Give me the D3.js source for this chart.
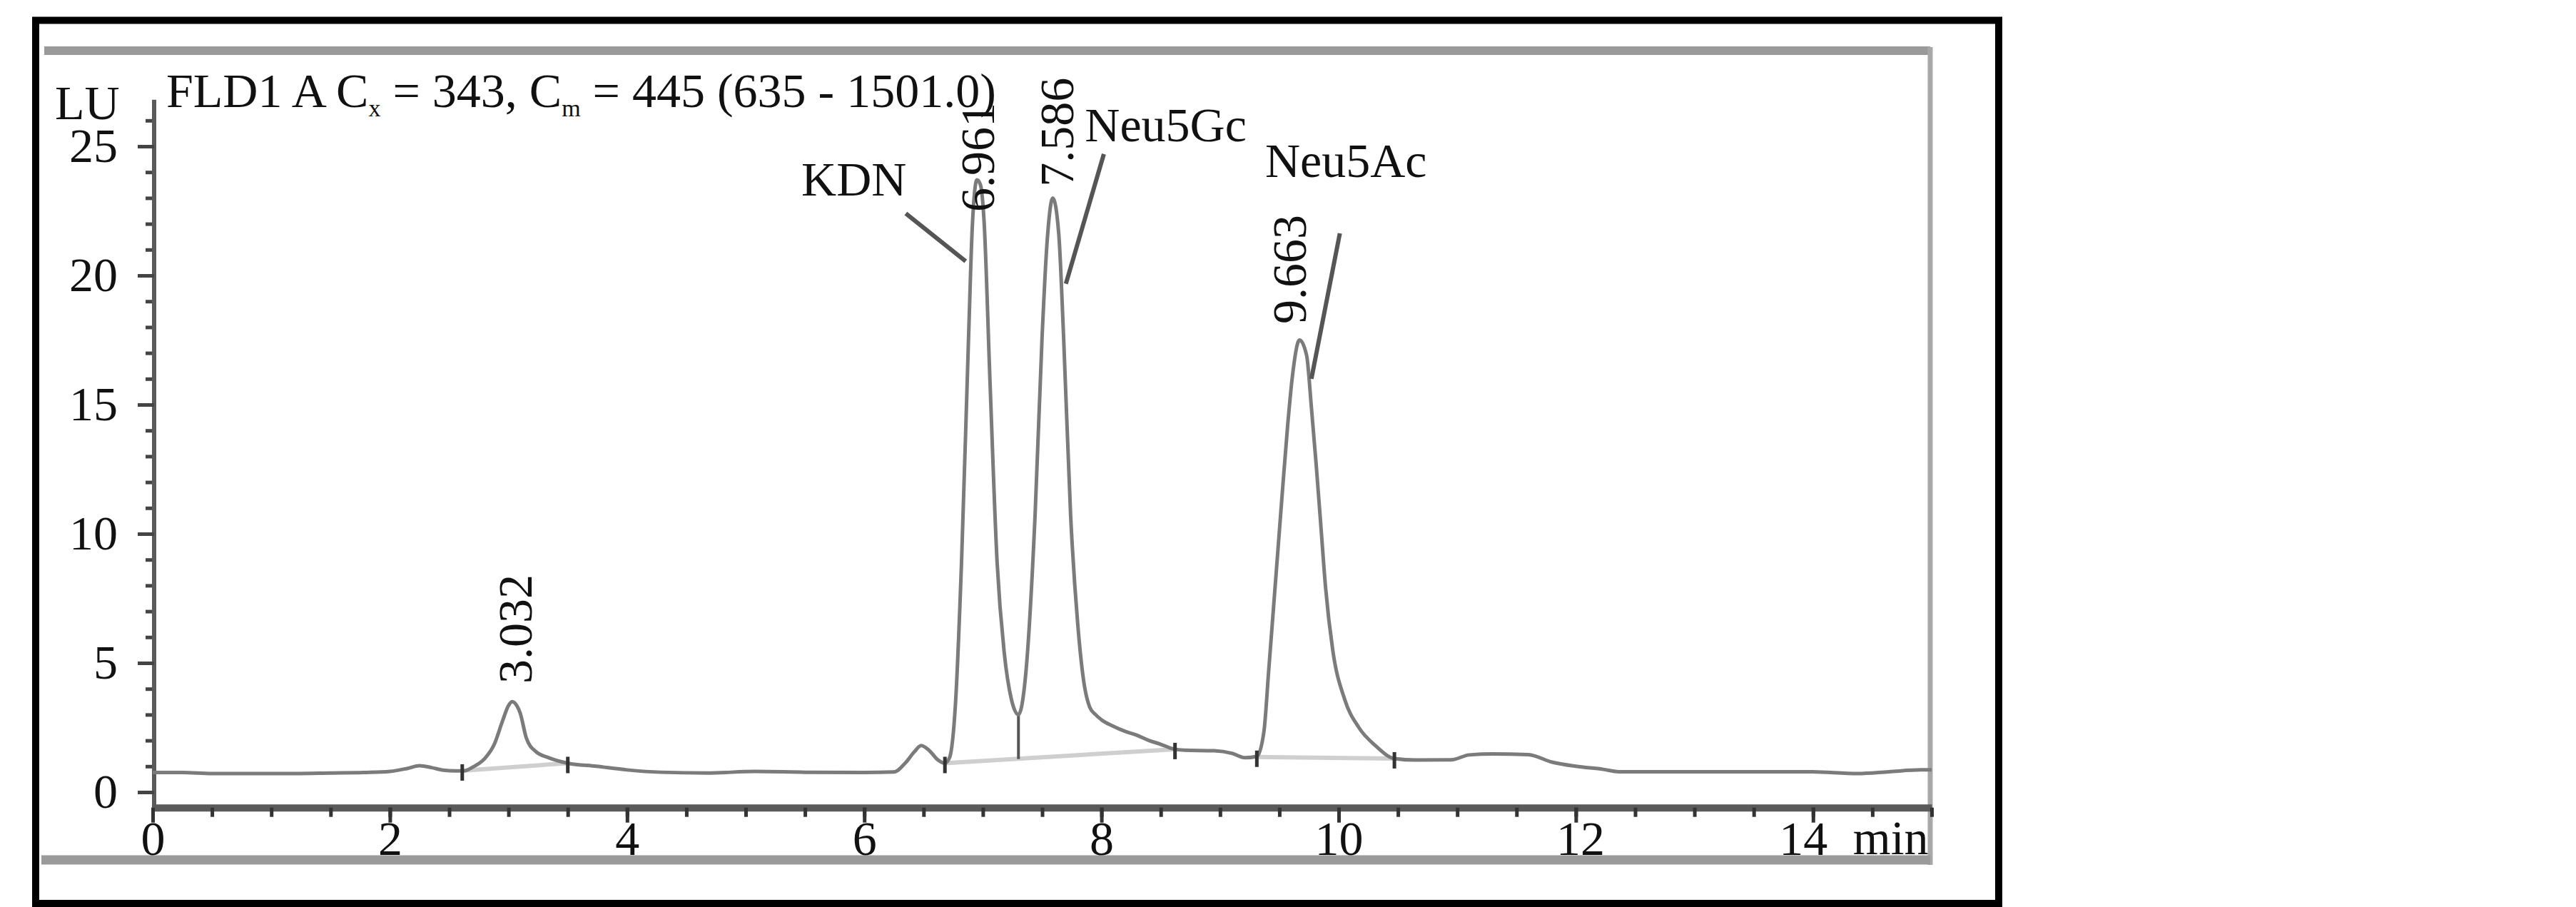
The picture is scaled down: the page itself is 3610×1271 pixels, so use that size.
<!DOCTYPE html>
<html>
<head>
<meta charset="utf-8">
<script src="https://cdn.jsdelivr.net/npm/d3@7"></script>
<style>
  html, body { margin: 0; padding: 0; background: #fff; }
  svg { display: block; }
  text { font-family: "Liberation Serif", "Times New Roman", serif; fill: #111; }
</style>
</head>
<body>
<svg id="chart" width="3610" height="1271"></svg>
<script>
// ---------------- data ----------------
const times = [0.00,0.25,0.50,0.80,1.20,1.50,1.80,2.00,2.15,2.25,2.35,2.45,2.55,2.62,2.70,2.80,2.88,2.95,3.00,3.03,3.07,3.10,3.15,3.23,3.34,3.50,3.74,4.00,4.28,4.68,5.08,5.50,6.00,6.25,6.35,6.42,6.48,6.55,6.62,6.68,6.72,6.77,6.82,6.88,6.91,6.95,6.98,7.01,7.06,7.12,7.18,7.24,7.30,7.36,7.44,7.50,7.54,7.59,7.64,7.68,7.74,7.80,7.85,7.90,7.95,8.00,8.10,8.20,8.30,8.40,8.50,8.60,8.70,8.95,9.10,9.21,9.31,9.37,9.41,9.45,9.49,9.53,9.57,9.61,9.67,9.73,9.77,9.81,9.85,9.89,9.95,10.05,10.17,10.31,10.47,10.65,10.95,11.10,11.30,11.60,11.80,12.00,12.23,12.36,13.00,13.97,14.38,14.64,14.91,15.00];
const signal = [0.76,0.76,0.72,0.72,0.72,0.74,0.76,0.80,0.92,1.02,0.95,0.85,0.82,0.82,0.97,1.30,1.85,2.76,3.35,3.50,3.35,3.04,2.10,1.57,1.33,1.12,1.00,0.86,0.77,0.74,0.80,0.77,0.76,0.78,1.15,1.55,1.80,1.60,1.25,1.12,1.35,3.5,8.9,17.7,21.8,23.7,23.5,22.1,15.9,8.9,5.4,3.6,3.0,4.5,10.7,17.7,21.2,23.0,21.6,17.7,10.7,6.5,4.3,3.3,3.0,2.8,2.55,2.35,2.2,2.0,1.85,1.68,1.62,1.60,1.50,1.33,1.38,2.35,4.7,7.1,9.5,11.9,14.2,16.1,17.5,16.9,14.9,12.7,10.3,7.9,5.5,3.6,2.5,1.8,1.3,1.24,1.25,1.44,1.48,1.45,1.16,1.0,0.88,0.79,0.79,0.79,0.72,0.79,0.86,0.86];

// integration baselines: start time, start LU, end time, end LU
const baseT0 = [2.61, 6.68, 9.31];
const baseV0 = [0.83, 1.12, 1.36];
const baseT1 = [3.50, 8.62, 10.47];
const baseV1 = [1.12, 1.66, 1.30];
// drop line at the valley between the two first large peaks
const dropT = 7.30, dropTop = 3.0, dropBottom = 1.28;

// axis ticks
const xMajorTicks = [0, 2, 4, 6, 8, 10, 12, 14];
const xMinorTicks = d3.range(0, 15.01, 0.5);
const yMajorTicks = [0, 5, 10, 15, 20, 25];
const yMinorTicks = d3.range(0, 27, 1);

// retention time labels (text start point in data units)
const rtLabels = ["3.032", "6.961", "7.586", "9.663"];
const rtLabelT = [3.057, 6.956, 7.624, 9.585];
const rtLabelV = [4.2, 22.46, 23.43, 18.12];

// compound names and their pointer lines
const compounds = ["KDN", "Neu5Gc", "Neu5Ac"];
const compoundT = [5.47, 7.86, 9.38];
const compoundV = [23.1, 25.2, 23.8];
const pointerT0 = [6.35, 8.02, 10.01];
const pointerV0 = [22.4, 24.7, 21.63];
const pointerT1 = [6.855, 7.70, 9.77];
const pointerV1 = [20.55, 19.68, 16.0];

const headerParts = [["FLD1 A C", false], ["x", true], [" = 343, C", false], ["m", true], [" = 445 (635 - 1501.0)", false]];

// ---------------- drawing ----------------
const svg = d3.select("#chart");
const FS = 68;

const x = d3.scaleLinear().domain([0, 15]).range([214, 2707]);
const y = d3.scaleLinear().domain([0, 25]).range([1110, 205]);

// outer black frame
svg.append("rect").attr("x", 50).attr("y", 28.5).attr("width", 2751).attr("height", 1237.5)
  .attr("fill", "none").attr("stroke", "#000").attr("stroke-width", 10);

// grey inner frame of the instrument printout
const g = svg.append("g");
const topY = 71;
g.append("line").attr("x1", 62).attr("x2", x(15) - 2).attr("y1", topY).attr("y2", topY)
  .attr("stroke", "#9a9a9a").attr("stroke-width", 12);
g.append("line").attr("x1", x(15) - 2).attr("x2", x(15) - 2).attr("y1", topY - 5).attr("y2", 1212)
  .attr("stroke", "#a8a8a8").attr("stroke-width", 7);
g.append("line").attr("x1", 58).attr("x2", x(15) - 2).attr("y1", 1205).attr("y2", 1205)
  .attr("stroke", "#9a9a9a").attr("stroke-width", 13);

// x axis
const xAxisY = y(-0.6);
const xMinor = svg.append("g").attr("transform", `translate(0,${xAxisY})`)
  .call(d3.axisBottom(x).tickValues(xMinorTicks).tickSize(13).tickSizeOuter(0).tickFormat(""));
xMinor.select(".domain").attr("stroke", "#5a5a5a").attr("stroke-width", 10);
xMinor.selectAll(".tick line").attr("stroke", "#333").attr("stroke-width", 5);

const xMajor = svg.append("g").attr("transform", `translate(0,${xAxisY})`)
  .call(d3.axisBottom(x).tickValues(xMajorTicks).tickSize(21).tickSizeOuter(0).tickPadding(-3).tickFormat(d3.format("d")));
xMajor.select(".domain").remove();
xMajor.selectAll(".tick line").attr("stroke", "#333").attr("stroke-width", 5);
xMajor.selectAll(".tick text").attr("font-size", FS).attr("fill", "#111")
  .attr("font-family", "Liberation Serif, Times New Roman, serif")
  .attr("dx", d => d === 14 ? -14 : (d === 12 ? 6 : 0));

svg.append("text").attr("x", x(14) + 56).attr("y", xAxisY + 65)
  .attr("font-size", FS).text("min");

// y axis
const yAxisX = x(0) + 2;
const yMinor = svg.append("g").attr("transform", `translate(${yAxisX},0)`)
  .call(d3.axisLeft(y).tickValues(yMinorTicks).tickSize(12).tickSizeOuter(0).tickFormat(""));
yMinor.select(".domain").remove();
yMinor.selectAll(".tick line").attr("stroke", "#444").attr("stroke-width", 5);
svg.append("line").attr("x1", yAxisX).attr("x2", yAxisX).attr("y1", y(26.8)).attr("y2", xAxisY)
  .attr("stroke", "#5a5a5a").attr("stroke-width", 6);

const yMajor = svg.append("g").attr("transform", `translate(${yAxisX},0)`)
  .call(d3.axisLeft(y).tickValues(yMajorTicks).tickSize(23).tickSizeOuter(0).tickPadding(28).tickFormat(d3.format("d")));
yMajor.select(".domain").remove();
yMajor.selectAll(".tick line").attr("stroke", "#444").attr("stroke-width", 5);
yMajor.selectAll(".tick text").attr("font-size", FS).attr("fill", "#111")
  .attr("font-family", "Liberation Serif, Times New Roman, serif");

svg.append("text").attr("x", x(0) - 137).attr("y", y(25) - 38).attr("font-size", FS).text("LU");

// header
const header = svg.append("text").attr("x", 233).attr("y", 150).attr("font-size", FS);
headerParts.forEach(([t, sub], i) => {
  const ts = header.append("tspan").text(t).attr("fill", "#111");
  if (sub) ts.attr("font-size", FS * 0.5).attr("dy", 13);
  else if (i > 0) ts.attr("dy", -13);
});

// integration baselines
const bases = baseT0.map((t, i) => ({ t0: t, v0: baseV0[i], t1: baseT1[i], v1: baseV1[i] }));
svg.append("g").selectAll("line").data(bases).join("line")
  .attr("x1", d => x(d.t0)).attr("y1", d => y(d.v0))
  .attr("x2", d => x(d.t1)).attr("y2", d => y(d.v1))
  .attr("stroke", "#cfcfcf").attr("stroke-width", 6);
svg.append("line").attr("x1", x(dropT)).attr("x2", x(dropT))
  .attr("y1", y(dropTop)).attr("y2", y(dropBottom))
  .attr("stroke", "#555").attr("stroke-width", 4);

// chromatogram trace
const pts = times.map((t, i) => [t, signal[i]]);
svg.append("path").datum(pts)
  .attr("d", d3.line().x(d => x(d[0])).y(d => y(d[1])).curve(d3.curveMonotoneX))
  .attr("fill", "none").attr("stroke", "#7b7b7b").attr("stroke-width", 5)
  .attr("stroke-linejoin", "round");

// integration event marks
const marks = [];
bases.forEach(d => { marks.push([d.t0, d.v0]); marks.push([d.t1, d.v1]); });
svg.append("g").selectAll("line").data(marks).join("line")
  .attr("x1", d => x(d[0])).attr("x2", d => x(d[0]))
  .attr("y1", d => y(d[1]) - 9).attr("y2", d => y(d[1]) + 14)
  .attr("stroke", "#333").attr("stroke-width", 5);

// retention time labels
rtLabels.forEach((lab, i) => {
  svg.append("text")
    .attr("transform", `translate(${x(rtLabelT[i])},${y(rtLabelV[i])}) rotate(-90)`)
    .attr("dy", "0.34em").attr("font-size", FS).text(lab);
});

// compound names and pointers
compounds.forEach((c, i) => {
  svg.append("text").attr("x", x(compoundT[i])).attr("y", y(compoundV[i]))
    .attr("font-size", FS).text(c);
  svg.append("line")
    .attr("x1", x(pointerT0[i])).attr("y1", y(pointerV0[i]))
    .attr("x2", x(pointerT1[i])).attr("y2", y(pointerV1[i]))
    .attr("stroke", "#555").attr("stroke-width", 6);
});
</script>
</body>
</html>
